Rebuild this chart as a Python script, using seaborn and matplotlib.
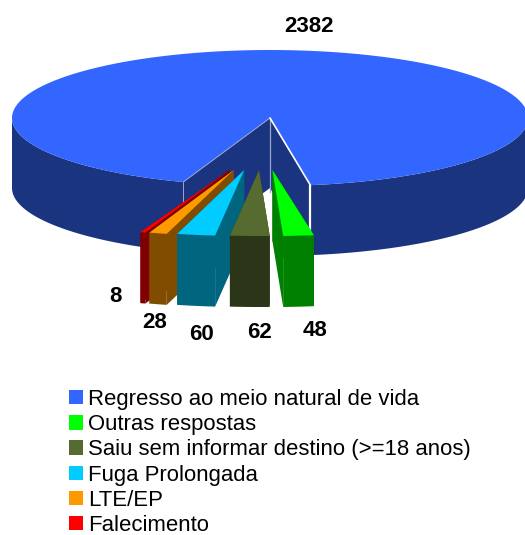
import numpy as np
import matplotlib
matplotlib.use("Agg")
import matplotlib.pyplot as plt
from matplotlib.patches import Patch
import seaborn as sns

categories = ["Regresso ao meio natural de vida", "Outras respostas",
              "Saiu sem informar destino (>=18 anos)", "Fuga Prolongada",
              "LTE/EP", "Falecimento"]
values = [2382, 48, 62, 60, 28, 8]
top_colors = ["#3366FF", "#00FF00", "#556B2F", "#00CCFF", "#FF9900", "#FF0000"]
value_labels = ["2382", "48", "62", "60", "28", "8"]
label_pos = [(309, 26), (315, 330), (259, 332), (202, 334), (155, 323), (115, 296)]

sns.set_theme(style="white")
plt.rcParams["font.family"] = ["Liberation Sans", "DejaVu Sans"]
palette = sns.color_palette(top_colors)
side_colors = [tuple(c * 0.5 for c in col) for col in palette]
side_colors[0] = "#1A3480"

fig = plt.figure(figsize=(5.25, 5.35), dpi=100)
ax = fig.add_axes([0, 0, 1, 1])
ax.set_xlim(0, 525)
ax.set_ylim(535, 0)
ax.axis("off")

CX, CY, RX, RY, DEPTH = 270, 118, 258, 68, 70
SLICE_RX, SLICE_RY, SLICE_DEPTH = 265, 66, 71
EXPLODE, SHIFT_X, SLICE_Y = 0.39, -7.5, 52
END_OF_MAIN = -81.0

def arc(t0, t1, cx, cy, rx, ry, n=120):
    t = np.radians(np.linspace(t0, t1, n))
    return cx + rx * np.cos(t), cy - ry * np.sin(t)

# angles from the values, clockwise
spans = np.array(values) / sum(values) * 360
main_start = END_OF_MAIN + spans[0]

# main slice: outer wall
for rng in [(180, main_start), (END_OF_MAIN, 0)]:
    x, y = arc(rng[0], rng[1], CX, CY, RX, RY)
    ax.fill(np.r_[x, x[::-1]], np.r_[y, y[::-1] + DEPTH],
            color=side_colors[0], lw=0, zorder=1)

# main slice: cut walls
xa, ya = arc(main_start, main_start, CX, CY, RX, RY, 1)
xb, yb = arc(END_OF_MAIN, END_OF_MAIN, CX, CY, RX, RY, 1)
for xe, ye in [(xa[0], ya[0]), (xb[0], yb[0])]:
    ax.fill([CX, xe, xe, CX], [CY, ye, ye + DEPTH, CY + DEPTH],
            color=side_colors[0], lw=0, zorder=1.5)

# main slice: top
x, y = arc(END_OF_MAIN, main_start, CX, CY, RX, RY, 400)
ax.fill(np.r_[CX, x], np.r_[CY, y], color=palette[0], lw=0, zorder=2)

# highlight lines of the cut
ax.plot([CX, CX], [CY, CY + DEPTH + 4], color="#9aa6c8", lw=0.9, zorder=2.2)
ax.plot([CX, xa[0]], [CY, ya[0]], color="#9aa6c8", lw=0.7, zorder=2.2)
ax.plot([xa[0], xa[0]], [ya[0], ya[0] + DEPTH], color="#9aa6c8", lw=0.7, zorder=2.2)
ax.plot([CX, xb[0]], [CY, yb[0]], color="white", lw=1.2, zorder=2.2)
ax.plot([xb[0], xb[0]], [yb[0], yb[0] + DEPTH], color="white", lw=1.6, zorder=2.2)

# exploded small slices, left to right
t_hi = END_OF_MAIN
wedges = []
for i in range(1, len(values)):
    wedges.append((i, t_hi, t_hi - spans[i]))
    t_hi -= spans[i]

for z, (i, t_r, t_l) in enumerate(reversed(wedges)):
    mid = np.radians((t_r + t_l) / 2)
    ax_x = CX + EXPLODE * RX * np.cos(mid) + SHIFT_X
    ax_y = CY + SLICE_Y
    base = 3 + z * 0.1
    x, y = arc(t_l, t_r, ax_x, ax_y, SLICE_RX, SLICE_RY, 30)
    for xe, ye in [(x[0], y[0]), (x[-1], y[-1])]:
        ax.fill([ax_x, xe, xe, ax_x], [ax_y, ye, ye + SLICE_DEPTH, ax_y + SLICE_DEPTH],
                color=side_colors[i], lw=0, zorder=base)
    ax.fill(np.r_[x, x[::-1]], np.r_[y, y[::-1] + SLICE_DEPTH],
            color=side_colors[i], lw=0, zorder=base + 0.01)
    ax.fill(np.r_[ax_x, x], np.r_[ax_y, y], color=palette[i], lw=0, zorder=base + 0.02)

for txt, (lx, ly) in zip(value_labels, label_pos):
    ax.text(lx, ly, txt, ha="center", va="center", fontsize=16,
            fontweight="bold", color="black", zorder=6)

handles = [Patch(facecolor=c, edgecolor="none", label=l)
           for c, l in zip(palette, categories)]
ax.legend(handles=handles, loc="upper left", bbox_to_anchor=(69 / 525, 1 - 389 / 535),
          frameon=False, fontsize=15.9, labelspacing=0.19, handlelength=0.63,
          handleheight=0.63, handletextpad=0.23, borderpad=0, borderaxespad=0,
          labelcolor="black")

fig.savefig("out.png", dpi=100, facecolor="white")
